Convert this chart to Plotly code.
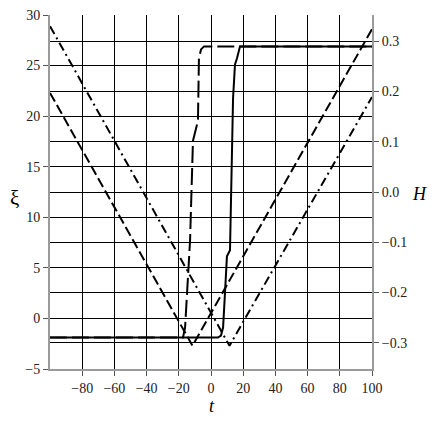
import plotly.graph_objects as go

# xi (left axis): two V-shaped curves
t_v_dash = [-100, -11.5, 100]
xi_v_dash = [22.3, -2.7, 28.6]
t_v_dashdot = [-100, 11.5, 100]
xi_v_dashdot = [28.9, -2.7, 21.9]

# H (right axis): two step curves
t_step_dash = [-100, -17.4, -16.1, -13.0, -11.2, -9.9, -8.1, -7.5, -6.2, -4.3, 100]
h_step_dash = [-0.29, -0.29, -0.27, -0.096, 0.102, 0.12, 0.142, 0.266, 0.284, 0.29, 0.29]
t_step_solid = [-100, 4.3, 6.2, 7.5, 8.7, 9.9, 11.8, 12.4, 13.0, 13.7, 14.9, 16.1, 18.0, 100]
h_step_solid = [-0.29, -0.29, -0.286, -0.27, -0.20, -0.128, -0.116, -0.016, 0.102, 0.187,
                0.254, 0.266, 0.29, 0.29]

x_ticks = [-80, -60, -40, -20, 0, 20, 40, 60, 80, 100]
xi_ticks = [-5, 0, 5, 10, 15, 20, 25, 30]
h_ticks = [-0.3, -0.2, -0.1, 0.0, 0.1, 0.2, 0.3]

SERIF = "Liberation Serif, Times New Roman, serif"
AXIS_GREY = "#9a9a9a"

fig = go.Figure()

fig.add_trace(go.Scatter(
    x=t_v_dash, y=xi_v_dash, mode="lines",
    line=dict(color="black", width=2, dash="10px,4px"),
    showlegend=False,
))
fig.add_trace(go.Scatter(
    x=t_v_dashdot, y=xi_v_dashdot, mode="lines",
    line=dict(color="black", width=2, dash="9px,4px,2px,4px"),
    showlegend=False,
))
fig.add_trace(go.Scatter(
    x=t_step_dash, y=h_step_dash, mode="lines", yaxis="y2",
    line=dict(color="black", width=2, dash="17px,5px"),
    showlegend=False,
))
fig.add_trace(go.Scatter(
    x=t_step_solid, y=h_step_solid, mode="lines", yaxis="y2",
    line=dict(color="black", width=2),
    showlegend=False,
))

axis_common = dict(
    showgrid=True, gridcolor="black", gridwidth=1.3,
    zeroline=False,
    showline=True, linecolor=AXIS_GREY, linewidth=2,
    ticks="outside", ticklen=5, tickcolor="#555555", tickwidth=1,
    tickfont=dict(family=SERIF, size=14, color="#222222"),
    ticklabeloverflow="allow", automargin=False,
)

label_font = dict(family=SERIF, size=18, color="black")

# page body keeps its 8px default margin, so the figure is a little smaller
fig.update_layout(
    width=430, height=413,
    margin=dict(l=42, r=66, t=7, b=52),
    paper_bgcolor="white", plot_bgcolor="white",
    showlegend=False,
    xaxis=dict(range=[-100, 100], tickvals=x_ticks, **axis_common),
    yaxis=dict(range=[-5, 30], tickvals=xi_ticks, **axis_common),
    yaxis2=dict(range=[-0.3525, 0.3525], tickvals=h_ticks, tickformat=".1f",
                overlaying="y", side="right", **axis_common),
    annotations=[
        dict(text="ξ", x=-0.109, y=0.483, xref="paper", yref="paper",
             xanchor="center", yanchor="middle", showarrow=False,
             font=dict(family=SERIF, size=21, color="black")),
        dict(text="<i>H</i>", x=1.146, y=0.494, xref="paper", yref="paper",
             xanchor="center", yanchor="middle", showarrow=False, font=label_font),
        dict(text="<i>t</i>", x=0.502, y=-0.104, xref="paper", yref="paper",
             xanchor="center", yanchor="middle", showarrow=False, font=label_font),
    ],
)

fig.write_html("out.html")
